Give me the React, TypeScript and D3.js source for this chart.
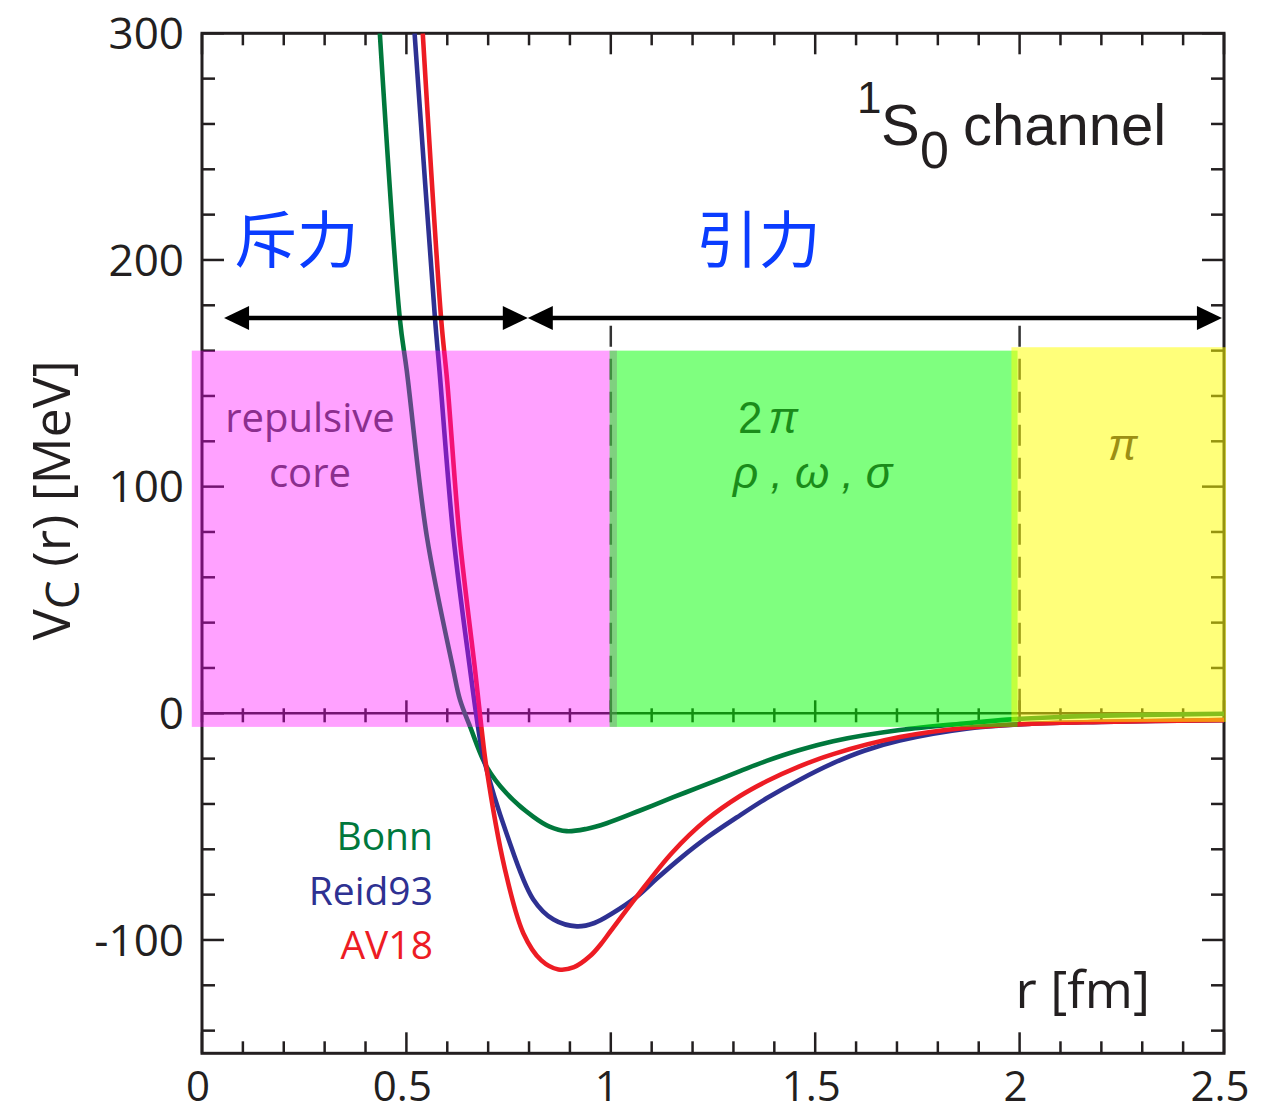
import * as d3 from 'd3'

// ---- data ----
const av18R = [0.54, 0.585, 0.6, 0.63, 0.668, 0.684, 0.695, 0.74, 0.786, 0.83, 0.872, 0.91, 0.95, 0.975, 1.0, 1.063, 1.15, 1.234, 1.316, 1.381, 1.46, 1.544, 1.707, 1.87, 2.03, 2.2, 2.5]
const av18V = [300, 174, 146, 78, 19, -7, -23, -68, -97, -109, -113, -112, -107, -102, -96, -81, -61.5, -47, -36.5, -30, -23.5, -18, -10.5, -6.4, -4.6, -3.8, -3]

const reidR = [0.52, 0.57, 0.581, 0.615, 0.656, 0.676, 0.688, 0.745, 0.81, 0.86, 0.917, 0.96, 1.006, 1.063, 1.112, 1.17, 1.234, 1.316, 1.381, 1.46, 1.544, 1.62, 1.707, 1.87, 2.03, 2.2, 2.5]
const reidV = [300, 174, 151, 78, 19, -7, -19, -53, -82, -91, -94, -92.5, -88, -81, -73, -64, -55, -45, -37.5, -29.5, -22, -16.5, -12, -6.8, -4.6, -3.8, -3]

const bonnR = [0.435, 0.484, 0.501, 0.55, 0.615, 0.631, 0.656, 0.696, 0.745, 0.81, 0.85, 0.892, 0.94, 0.99, 1.07, 1.153, 1.218, 1.316, 1.381, 1.46, 1.544, 1.707, 1.87, 1.97, 2.1, 2.3, 2.5]
const bonnV = [300, 174, 151, 78, 19, 6, -6, -23.5, -35.3, -45.6, -50, -52, -51, -48.5, -43, -37, -32.5, -25.5, -21, -16.3, -12.3, -7.4, -4.4, -2.8, -1.6, -0.7, -0.2]

const seriesNames = ['Bonn', 'Reid93', 'AV18']
const seriesColors = ['#00783c', '#2e3192', '#ed1c24']

const xTickLabels = ['0', '0.5', '1', '1.5', '2', '2.5']
const yTickLabels = ['-100', '0', '100', '200', '300']

// shaded ranges
const bandNames = ['repulsive', 'twoPi', 'pi']
const bandR0 = [-0.025, 0.997, 1.98]
const bandR1 = [1.015, 1.995, 2.505]
const bandTop = [160, 160, 161.5]
const bandBottom = [-6, -6, -3.8]
const bandColors = ['#ff00ff', '#00ff00', '#ffff00']
const bandOpacity = [0.37, 0.5, 0.52]

// force arrows
const forceLabels = ['斥力', '引力']
const forceFrom = [0.054, 0.797]
const forceTo = [0.797, 2.495]
const forceLabelR = [0.08, 1.21]
const arrowV = 174.4
const dashedAt = [1.0, 2.0]

const W = 1261, H = 1115
const x = d3.scaleLinear().domain([0, 2.5]).range([202, 1224])
const y = d3.scaleLinear().domain([-150, 300]).range([1053.3, 33.3])

const axisColor = '#231f20'
const tickFont = '"Open Sans", sans-serif'
const arial = '"Liberation Sans", Arial, sans-serif'

function Curve({ rs, vs, color }: { rs: number[]; vs: number[]; color: string }) {
  const pts = rs.map((r, i) => [r, vs[i]] as [number, number])
  const line = d3.line<[number, number]>()
    .x(d => x(d[0]))
    .y(d => y(d[1]))
    .curve(d3.curveCatmullRom.alpha(0.5))
  return <path d={line(pts) || ''} fill="none" stroke={color} strokeWidth={4.6} strokeLinejoin="round" clipPath="url(#plotClip)" />
}

export default function App() {
  const x0 = x(0), x1 = x(2.5), yTop = y(300), yBot = y(-150), yZero = y(0)
  const xMinor = d3.range(0, 2.5001, 0.1)
  const yMinor = d3.range(-140, 300.001, 20)
  const isMajorX = (t: number) => Math.abs(t * 2 - Math.round(t * 2)) < 1e-6
  const isMajorY = (v: number) => Math.abs(v % 100) < 1e-6

  const arrowHead = (tipX: number, dir: number) => {
    const yy = y(arrowV)
    return `M${tipX},${yy} L${tipX - dir * 25},${yy - 12} L${tipX - dir * 25},${yy + 12} Z`
  }

  return (
    <svg width={W} height={H} style={{ position: 'absolute', left: 0, top: 0, background: '#fff' }}>
      <defs>
        <clipPath id="plotClip">
          <rect x={x0} y={yTop} width={x1 - x0} height={yBot - yTop} />
        </clipPath>
      </defs>

      {/* zero line with ticks */}
      <line x1={x0} x2={x1} y1={yZero} y2={yZero} stroke={axisColor} strokeWidth={2.5} />
      {xMinor.map((t, i) => (
        <line key={'z' + i} x1={x(t)} x2={x(t)} y1={yZero - (isMajorX(t) ? 13 : 5)} y2={yZero + 9} stroke={axisColor} strokeWidth={2.5} />
      ))}

      {/* dashed separators */}
      {dashedAt.map((r, i) => (
        <line key={'d' + i} x1={x(r)} x2={x(r)} y1={y(171)} y2={yZero} stroke="#333" strokeWidth={2.5} strokeDasharray="21 12" />
      ))}

      {/* frame */}
      <rect x={x0} y={yTop} width={x1 - x0} height={yBot - yTop} fill="none" stroke={axisColor} strokeWidth={3} />
      {xMinor.map((t, i) => {
        const len = isMajorX(t) ? 21 : 12
        return (
          <g key={'xt' + i}>
            <line x1={x(t)} x2={x(t)} y1={yBot} y2={yBot - len} stroke={axisColor} strokeWidth={2.5} />
            <line x1={x(t)} x2={x(t)} y1={yTop} y2={yTop + len} stroke={axisColor} strokeWidth={2.5} />
          </g>
        )
      })}
      {yMinor.map((v, i) => {
        const len = isMajorY(v) ? 22 : 13
        return (
          <g key={'yt' + i}>
            <line x1={x0} x2={x0 + len} y1={y(v)} y2={y(v)} stroke={axisColor} strokeWidth={2.5} />
            <line x1={x1} x2={x1 - len} y1={y(v)} y2={y(v)} stroke={axisColor} strokeWidth={2.5} />
          </g>
        )
      })}

      {/* curves */}
      <Curve rs={bonnR} vs={bonnV} color={seriesColors[0]} />
      <Curve rs={reidR} vs={reidV} color={seriesColors[1]} />
      <Curve rs={av18R} vs={av18V} color={seriesColors[2]} />

      {/* translucent range bands on top */}
      {bandNames.map((n, i) => (
        <rect key={n} x={x(bandR0[i])} y={y(bandTop[i])} width={x(bandR1[i]) - x(bandR0[i])}
          height={y(bandBottom[i]) - y(bandTop[i])} fill={bandColors[i]} fillOpacity={bandOpacity[i]} />
      ))}

      {/* arrows */}
      {forceLabels.map((lab, i) => (
        <g key={lab}>
          <line x1={x(forceFrom[i]) + 20} x2={x(forceTo[i]) - 20} y1={y(arrowV)} y2={y(arrowV)} stroke="#000" strokeWidth={4.5} />
          <path d={arrowHead(x(forceFrom[i]), -1)} fill="#000" />
          <path d={arrowHead(x(forceTo[i]), 1)} fill="#000" />
          <text x={x(forceLabelR[i])} y={263} fontFamily='"Noto Sans CJK JP", sans-serif' fontSize={62} fill="#0a3cff">{lab}</text>
        </g>
      ))}

      {/* tick labels */}
      {xTickLabels.map(l => (
        <text key={'xl' + l} x={x(+l) - 4} y={1101} textAnchor="middle" fontFamily={tickFont} fontSize={42} fill={axisColor}>{l}</text>
      ))}
      {yTickLabels.map(l => (
        <text key={'yl' + l} x={184} y={y(+l)} dy="0.36em" textAnchor="end" fontFamily={tickFont} fontSize={44} fill={axisColor}>{l}</text>
      ))}

      {/* axis titles */}
      <text transform={`translate(70,${y(94)}) rotate(-90)`} textAnchor="middle" fontFamily={tickFont} fontSize={52} fill={axisColor}>
        V<tspan fontSize={46} dy={9}>C</tspan><tspan dy={-9}> (r) [MeV]</tspan>
      </text>
      <text x={x(2.5) - 74} y={1008} textAnchor="end" fontFamily={tickFont} fontSize={52} fill={axisColor}>r [fm]</text>

      {/* channel label */}
      <text x={857} y={113} fontFamily={arial} fontSize={44} fill={axisColor}>1</text>
      <text x={881} y={145} fontFamily={arial} fontSize={58} fill={axisColor}>S</text>
      <text x={920} y={168} fontFamily={arial} fontSize={52} fill={axisColor}>0</text>
      <text x={963} y={145} fontFamily={arial} fontSize={58} fill={axisColor}>channel</text>

      {/* band annotations */}
      <text x={x(0.264)} y={y(124)} textAnchor="middle" fontFamily={tickFont} fontSize={40} fill="#8b2e8e">repulsive</text>
      <text x={x(0.264)} y={y(99.8)} textAnchor="middle" fontFamily={tickFont} fontSize={40} fill="#8b2e8e">core</text>
      <text x={x(1.311)} y={y(123.6)} fontFamily={arial} fontSize={44} fill="#1a8c1a">
        2<tspan dx={6} fontStyle="italic">π</tspan>
      </text>
      <text x={x(1.299)} y={y(99.6)} fontFamily={arial} fontSize={44} fill="#1a8c1a" fontStyle="italic">ρ , ω , σ</text>
      <text x={x(2.216)} y={y(111.7)} fontFamily={arial} fontSize={44} fill="#9c8f14" fontStyle="italic">π</text>

      {/* legend */}
      {seriesNames.map((n, i) => (
        <text key={n} x={x(0.565)} y={y(-60.4 - i * 24)} textAnchor="end" fontFamily={tickFont} fontSize={39} fill={seriesColors[i]}>{n}</text>
      ))}
    </svg>
  )
}
